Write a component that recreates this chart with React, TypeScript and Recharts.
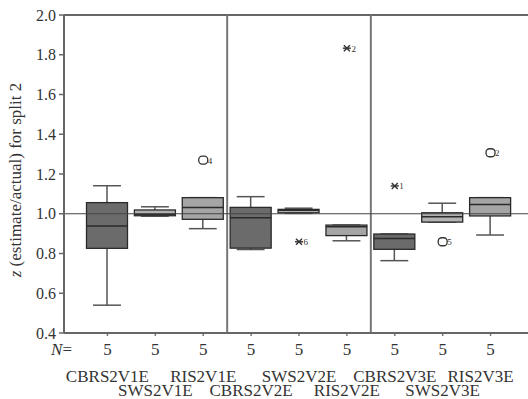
import React from 'react'
import { ComposedChart, Bar, Scatter, XAxis, YAxis, ReferenceLine, Label } from 'recharts'

const categories = [
  'CBRS2V1E', 'SWS2V1E', 'RIS2V1E',
  'CBRS2V2E', 'SWS2V2E', 'RIS2V2E',
  'CBRS2V3E', 'SWS2V3E', 'RIS2V3E',
]
const groupSizes = [5, 5, 5, 5, 5, 5, 5, 5, 5]

// five-number summaries (whisker ends, quartiles, median)
const whiskerLow = [0.54, 0.988, 0.925, 0.82, 1.002, 0.864, 0.764, 0.958, 0.893]
const quartile1 = [0.826, 0.99, 0.972, 0.827, 1.005, 0.89, 0.821, 0.958, 0.989]
const medians = [0.938, 0.997, 1.032, 0.98, 1.018, 0.935, 0.876, 0.985, 1.047]
const quartile3 = [1.056, 1.019, 1.081, 1.032, 1.022, 0.943, 0.898, 1.005, 1.081]
const whiskerHigh = [1.141, 1.035, 1.081, 1.086, 1.028, 0.943, 0.898, 1.053, 1.081]

// one flagged case per group at most (o = outlier, * = extreme)
const outlierValue = [null, null, 1.27, null, 0.859, 1.833, 1.14, 0.859, 1.307]
const outlierCase = ['', '', '4', '', '6', '2', '1', '5', '2']
const outlierExtreme = [false, false, false, false, true, true, true, false, false]

// group boundaries between the V1, V2 and V3 blocks (in category-index units)
const blockBreaks = [2.5, 5.5]

const yTicks = [0.4, 0.6, 0.8, 1.0, 1.2, 1.4, 1.6, 1.8, 2.0]

const FONT = '"Liberation Serif", "Times New Roman", serif'
const PLOT_BOTTOM = 333
const BAND_PAD = 19.5
const BAND = 47.9

const fillFor = (name: string) =>
  name.startsWith('CBRS') ? '#6b6b6b' : name.startsWith('SWS') ? '#b2b2b2' : '#a5a5a5'

const rows = categories.map((name, i) => ({
  name,
  n: groupSizes[i],
  low: whiskerLow[i],
  q1: quartile1[i],
  median: medians[i],
  q3: quartile3[i],
  high: whiskerHigh[i],
  outlier: outlierValue[i],
  caseId: outlierCase[i],
  extreme: outlierExtreme[i],
}))

function BoxShape(props: any) {
  const { x, y, width, height, payload } = props
  const top = Math.min(y, y + height)
  const h = Math.abs(height)
  const span = payload.high - payload.low
  const py = (v: number) => (span > 0 ? top + ((payload.high - v) / span) * h : top)
  const cx = x + width / 2
  const cap = width * 0.34
  const yq3 = py(payload.q3)
  const yq1 = py(payload.q1)
  const ymed = py(payload.median)
  return (
    <g>
      <line x1={cx} x2={cx} y1={top} y2={yq3} stroke="#555" strokeWidth={1.5} />
      <line x1={cx} x2={cx} y1={yq1} y2={top + h} stroke="#555" strokeWidth={1.5} />
      <line x1={cx - cap} x2={cx + cap} y1={top} y2={top} stroke="#555" strokeWidth={1.5} />
      <line x1={cx - cap} x2={cx + cap} y1={top + h} y2={top + h} stroke="#555" strokeWidth={1.5} />
      <rect
        x={x}
        y={yq3}
        width={width}
        height={Math.max(yq1 - yq3, 1)}
        fill={fillFor(payload.name)}
        stroke="#2a2a2a"
        strokeWidth={1.3}
      />
      <line x1={x} x2={x + width} y1={ymed} y2={ymed} stroke="#2a2a2a" strokeWidth={1.5} />
    </g>
  )
}

function OutlierShape(props: any) {
  const { cx, cy, payload } = props
  if (payload.outlier == null || !Number.isFinite(cy)) return <g />
  return (
    <g>
      {payload.extreme ? (
        <g stroke="#333" strokeWidth={1.4}>
          <line x1={cx - 4} x2={cx + 4} y1={cy} y2={cy} />
          <line x1={cx - 3} x2={cx + 3} y1={cy - 3} y2={cy + 3} />
          <line x1={cx - 3} x2={cx + 3} y1={cy + 3} y2={cy - 3} />
        </g>
      ) : (
        <rect x={cx - 4.5} y={cy - 4} width={9} height={8} rx={3.5} fill="#fff" stroke="#333" strokeWidth={1.3} />
      )}
      <text x={cx + 4.5} y={cy + 3.5} fontSize={9} fontFamily={FONT} fill="#333">
        {payload.caseId}
      </text>
    </g>
  )
}

function CategoryTick(props: any) {
  const { x, payload, index } = props
  const lower = index % 2 === 1
  const last = index === categories.length - 1
  return (
    <g fontFamily={FONT} fill="#333">
      <line x1={x} x2={x} y1={PLOT_BOTTOM + 1} y2={PLOT_BOTTOM + 3} stroke="#777" strokeWidth={1.5} />
      <text x={x} y={355} textAnchor="middle" fontSize={17} fill="#333">
        {groupSizes[index]}
      </text>
      <text x={last ? x - 10 : x} y={lower ? 396 : 382} textAnchor="middle" fontSize={17} fill="#333">
        {payload.value}
      </text>
      {index === 0 && (
        <text x={72} y={355} textAnchor="end" fontSize={17} fill="#333">
          <tspan fontStyle="italic">N</tspan>=
        </text>
      )}
    </g>
  )
}

function YTitle() {
  return (
    <text
      x={15}
      y={180}
      transform="rotate(-90 15 180)"
      textAnchor="middle"
      dominantBaseline="central"
      fontFamily={FONT}
      fontSize={17}
      fill="#333"
    >
      <tspan fontStyle="italic">z</tspan> (estimate/actual) for split 2
    </text>
  )
}

export default function App() {
  return (
    <div style={{ position: 'absolute', left: 0, top: 0, width: 528, height: 399, overflow: 'hidden', background: '#fff' }}>
      <ComposedChart
        width={540}
        height={399}
        data={rows}
        margin={{ top: 15, right: 6, bottom: 0, left: 0 }}
      >
        <XAxis
          dataKey="name"
          type="category"
          padding={{ left: BAND_PAD, right: BAND_PAD }}
          height={66}
          interval={0}
          tickLine={false}
          axisLine={{ stroke: '#666', strokeWidth: 2 }}
          tick={<CategoryTick />}
        />
        <XAxis
          xAxisId="sep"
          type="number"
          domain={[0, categories.length - 1]}
          allowDataOverflow
          padding={{ left: BAND_PAD + BAND / 2, right: BAND_PAD + BAND / 2 }}
          hide
        />
        <YAxis
          type="number"
          domain={[0.4, 2.0]}
          ticks={yTicks}
          width={64}
          tickSize={5}
          tickMargin={3}
          tickFormatter={(v: number) => v.toFixed(1)}
          axisLine={{ stroke: '#666', strokeWidth: 2 }}
          tickLine={{ stroke: '#666', strokeWidth: 1.5 }}
          tick={{ fontFamily: FONT, fontSize: 16, fill: '#333' }}
        >
          <Label content={<YTitle />} />
        </YAxis>
        <ReferenceLine y={2.0} stroke="#666" strokeWidth={2} />
        {blockBreaks.map((b) => (
          <ReferenceLine key={b} xAxisId="sep" x={b} stroke="#777" strokeWidth={2} />
        ))}
        <ReferenceLine y={1.0} stroke="#444" strokeWidth={1.2} />
        <Bar
          dataKey={(d: any) => [d.low, d.high]}
          barSize={41}
          shape={<BoxShape />}
          isAnimationActive={false}
        />
        <Scatter dataKey="outlier" shape={<OutlierShape />} isAnimationActive={false} />
      </ComposedChart>
    </div>
  )
}
